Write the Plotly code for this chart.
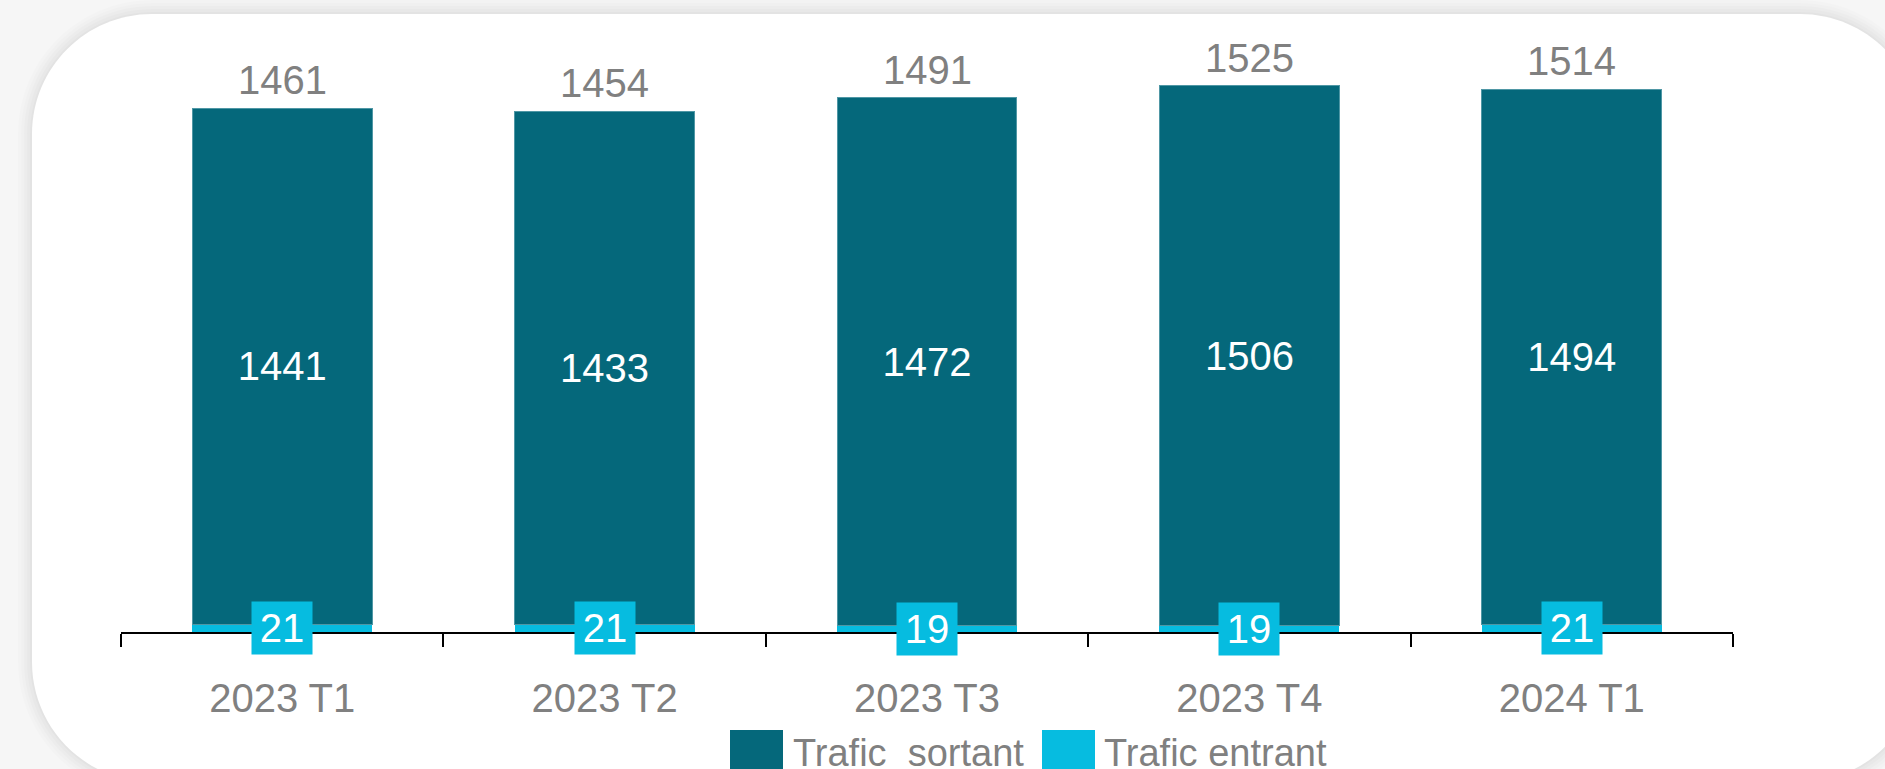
import plotly.graph_objects as go

# ---- data ----
categories = ["2023 T1", "2023 T2", "2023 T3", "2023 T4", "2024 T1"]
sortant = [1441, 1433, 1472, 1506, 1494]
entrant = [21, 21, 19, 19, 21]
totals = [1461, 1454, 1491, 1525, 1514]
series_names = ["Trafic\u00a0 sortant", "Trafic entrant"]

# ---- style ----
DARK = "#05687B"
CYAN = "#06BCE0"
GRAY = "#808080"
FONT = "Liberation Sans, Arial, sans-serif"

W, H = 1885, 769
ML, MR, MT, MB = 121, 152, 50, 137
PW = W - ML - MR
PH = H - MT - MB


def px2x(px):
    return (px - ML) / PW


def py2y(py):
    return (H - MB - py) / PH


def rrect(x0, y0, x1, y1, r):
    k = 0.5523 * r
    pts = [
        ("M", [(x0 + r, y0)]),
        ("L", [(x1 - r, y0)]),
        ("C", [(x1 - r + k, y0), (x1, y0 + r - k), (x1, y0 + r)]),
        ("L", [(x1, y1 - r)]),
        ("C", [(x1, y1 - r + k), (x1 - r + k, y1), (x1 - r, y1)]),
        ("L", [(x0 + r, y1)]),
        ("C", [(x0 + r - k, y1), (x0, y1 - r + k), (x0, y1 - r)]),
        ("L", [(x0, y0 + r)]),
        ("C", [(x0, y0 + r - k), (x0 + r - k, y0), (x0 + r, y0)]),
    ]
    s = ""
    for cmd, ps in pts:
        s += cmd + " " + " ".join(f"{px2x(a):.5f},{py2y(b):.5f}" for a, b in ps) + " "
    return s + "Z"


fig = go.Figure()
fig.add_trace(go.Bar(
    x=categories, y=entrant, name=series_names[1],
    marker=dict(color=CYAN, line=dict(width=0)),
    hoverinfo="x+y+name",
))
fig.add_trace(go.Bar(
    x=categories, y=sortant, name=series_names[0],
    marker=dict(color=DARK, line=dict(width=1, color="#4F97A5")),
    text=[str(v) for v in sortant], textposition="inside",
    insidetextanchor="middle",
    textfont=dict(color="white", size=40, family=FONT),
    hoverinfo="x+y+name",
))

shapes = []
# soft shadow + white rounded card
for i, a in enumerate([0.010, 0.012, 0.014, 0.016, 0.018]):
    d = 14 - i * 3
    shapes.append(dict(type="path", xref="paper", yref="paper", layer="below",
                       path=rrect(32 - d, 14 - d, 1920 + d, 782 + d, 120 + d),
                       fillcolor=f"rgba(0,0,0,{a})", line=dict(width=0)))
shapes.append(dict(type="path", xref="paper", yref="paper", layer="below",
                   path=rrect(32, 14, 1920, 782, 120),
                   fillcolor="white", line=dict(width=0)))

annotations = []
for c, t, s, e in zip(categories, totals, sortant, entrant):
    annotations.append(dict(x=c, y=s + e, xref="x", yref="y", text=str(t),
                            showarrow=False, yanchor="bottom", yshift=4,
                            font=dict(size=40, color=GRAY, family=FONT)))
    annotations.append(dict(x=c, y=e / 2, xref="x", yref="y", text=str(e),
                            showarrow=False, yanchor="middle",
                            bgcolor=CYAN, width=60, height=52, borderpad=0,
                            font=dict(size=40, color="white", family=FONT)))

# custom legend (large square swatches)
legend_items = [(730, 792, DARK, series_names[0]), (1042, 1103, CYAN, series_names[1])]
for sx, tx, col, name in legend_items:
    shapes.append(dict(type="rect", xref="paper", yref="paper",
                       x0=px2x(sx), x1=px2x(sx + 53), y0=py2y(783), y1=py2y(730),
                       fillcolor=col, line=dict(width=0)))
    annotations.append(dict(x=px2x(tx), y=py2y(753), xref="paper", yref="paper",
                            text=name, showarrow=False, xanchor="left", yanchor="middle",
                            borderpad=0,
                            font=dict(size=38, color=GRAY, family=FONT)))

fig.update_layout(
    width=W, height=H,
    margin=dict(l=ML, r=MR, t=MT, b=MB, pad=0),
    paper_bgcolor="#F6F6F6",
    plot_bgcolor="rgba(0,0,0,0)",
    barmode="stack",
    bargap=0.442,
    showlegend=False,
    shapes=shapes,
    annotations=annotations,
    font=dict(family=FONT, color=GRAY),
)
fig.update_xaxes(
    type="category", categoryorder="array", categoryarray=categories,
    range=[-0.5, len(categories) - 0.5],
    showline=True, linecolor="black", linewidth=2,
    ticks="outside", tickson="boundaries", ticklen=13, tickwidth=2, tickcolor="black",
    ticklabelstandoff=30,
    tickfont=dict(size=40, color=GRAY, family=FONT),
    showgrid=False, zeroline=False,
)
fig.update_yaxes(visible=False, range=[0, 1625], showgrid=False, zeroline=False)

fig.write_html("out.html", config={"displayModeBar": False},
               post_script="document.body.style.margin='0';document.body.style.overflow='hidden';")
